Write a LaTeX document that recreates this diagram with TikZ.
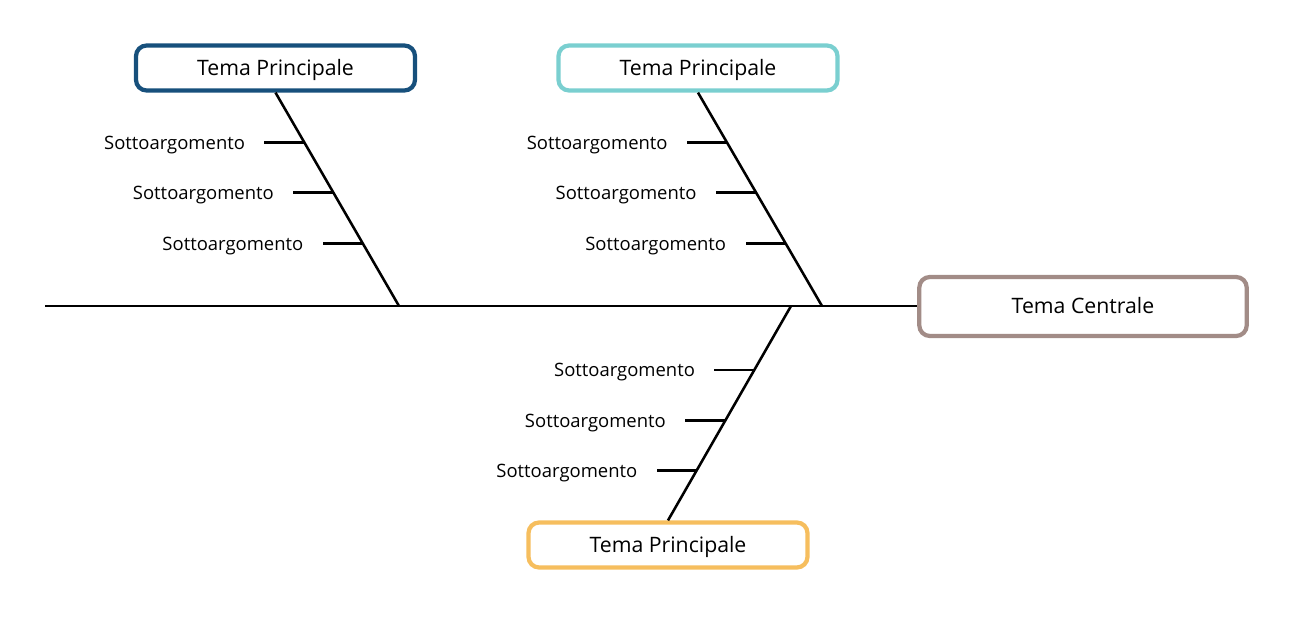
\documentclass[tikz,border=0pt]{standalone}
\usepackage{fontspec}
\setmainfont{Open Sans}
\usepackage{xcolor}
\usetikzlibrary{positioning,calc}

\definecolor{pblue}{HTML}{17507C}
\definecolor{pteal}{HTML}{7ACFD0}
\definecolor{porange}{HTML}{F6BE5E}
\definecolor{pgray}{HTML}{A28C87}

\begin{document}
\begin{tikzpicture}[x=0.02cm,y=-0.02cm,
  topic/.style={draw,rounded corners=6pt,line width=2.4pt,fill=white,minimum width=5.58cm,minimum height=0.9cm,text height=1.75ex,text depth=0.25ex,font=\fontsize{12.1}{14}\selectfont},
  bone/.style={line width=1.45pt},
  sub/.style={font=\fontsize{10.5}{12}\selectfont,anchor=east,yshift=-1.5pt}]
\useasboundingbox (0,0) rectangle (1292,629);

\node[topic,draw=pblue] (tp1) at (275.5,68) {Tema Principale};
\node[topic,draw=pteal] (tp2) at (698,68) {Tema Principale};
\node[topic,draw=porange] (tp3) at (668,545) {Tema Principale};
\node[topic,draw=pgray,minimum width=6.55cm,minimum height=1.18cm] (tc) at (1083,306.5) {Tema Centrale};

\coordinate (tail) at (45,306);
\coordinate (j1) at (399,306);
\coordinate (j2) at (822,306);
\coordinate (j3) at (791,306);

% spine and main bones
\draw[bone] (tail) -- (tc.west |- tail);
\draw[bone] (tp1.south) -- (j1);
\draw[bone] (tp2.south) -- (j2);
\draw[bone] (j3) -- (tp3.north);

% sub topics
\foreach \b in {1,2}
  \foreach \f [count=\i] in {0.234,0.467,0.706} {
    \coordinate (s\b-\i) at ($(tp\b.south)!\f!(j\b)$);
    \draw[bone] (s\b-\i) -- ++(-40,0) node[sub,left=7pt] {Sottoargomento};
  }
\foreach \f [count=\i] in {0.298,0.535,0.767} {
  \coordinate (s3-\i) at ($(j3)!\f!(tp3.north)$);
  \draw[bone] (s3-\i) -- ++(-40,0) node[sub,left=7pt] {Sottoargomento};
}
\end{tikzpicture}
\end{document}
